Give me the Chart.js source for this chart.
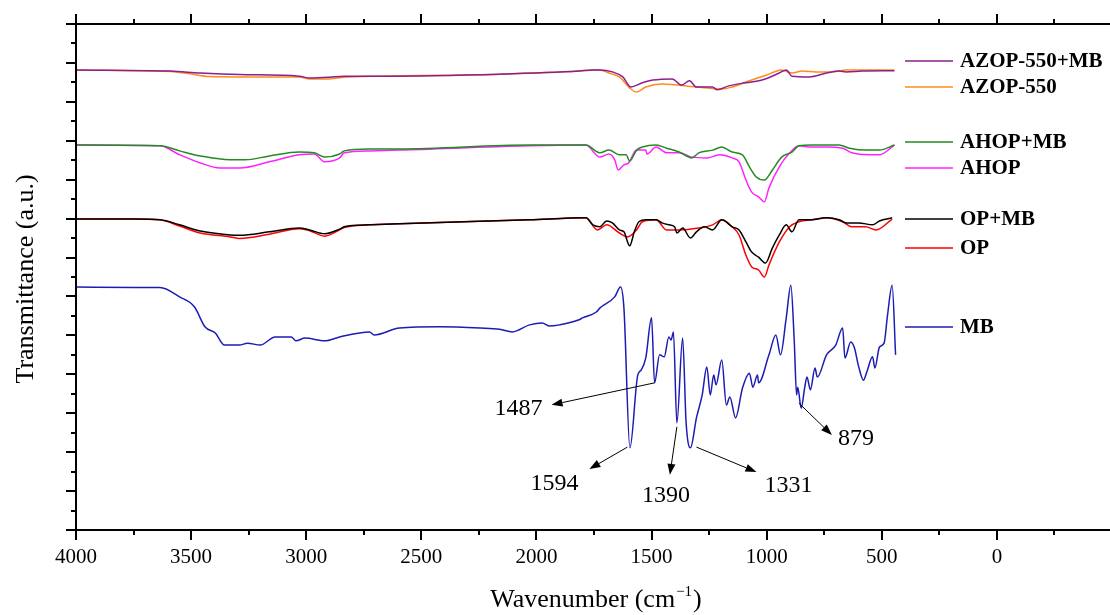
<!DOCTYPE html>
<html>
<head>
<meta charset="utf-8">
<script src="https://cdn.jsdelivr.net/npm/chart.js@4.4.1/dist/chart.umd.min.js"></script>
<style>
  html, body { margin: 0; padding: 0; background: #fff; overflow: hidden; }
  #wrap { width: 1112px; height: 615px; }
</style>
</head>
<body>
<div id="wrap"><canvas id="ftirChart" width="1112" height="615"></canvas></div>
<script>
// Tick labels
const xTicks = [4000, 3500, 3000, 2500, 2000, 1500, 1000, 500, 0];

// Series names and colours (legend order)
const seriesNames = ['AZOP-550+MB', 'AZOP-550', 'AHOP+MB', 'AHOP', 'OP+MB', 'OP', 'MB'];
const seriesColors = ['#8a1f8f', '#ff8c1a', '#228b22', '#ff22ff', '#000000', '#ff0000', '#1c1cb4'];

// AZOP-550+MB
const azopMbWave = [4000, 3590, 3460, 3290, 3030, 2985, 2900, 2835, 2680, 2160, 1815, 1755, 1725, 1670, 1625, 1590, 1540, 1495, 1410, 1370, 1335, 1305, 1235, 1215, 1165, 1090, 1020, 945, 915, 890, 815, 740, 685, 655, 585, 445];
const azopMbT = [11.82, 11.79, 11.74, 11.70, 11.66, 11.61, 11.63, 11.66, 11.66, 11.71, 11.79, 11.82, 11.82, 11.77, 11.64, 11.38, 11.49, 11.56, 11.59, 11.43, 11.54, 11.38, 11.38, 11.31, 11.41, 11.49, 11.56, 11.74, 11.82, 11.66, 11.64, 11.74, 11.79, 11.77, 11.79, 11.80];

// AZOP-550
const azopWave = [4000, 3590, 3505, 3420, 3290, 3030, 2985, 2900, 2835, 2680, 2160, 1815, 1755, 1725, 1685, 1640, 1595, 1565, 1525, 1455, 1305, 1195, 1150, 1090, 1000, 935, 890, 845, 785, 715, 655, 445];
const azopT = [11.82, 11.78, 11.72, 11.65, 11.64, 11.64, 11.59, 11.59, 11.63, 11.66, 11.71, 11.79, 11.82, 11.82, 11.74, 11.64, 11.36, 11.25, 11.38, 11.46, 11.38, 11.33, 11.38, 11.51, 11.69, 11.82, 11.74, 11.79, 11.77, 11.77, 11.82, 11.82];

// AHOP+MB
const ahopMbWave = [4000, 3635, 3550, 3460, 3330, 3265, 3160, 3030, 2965, 2920, 2855, 2835, 2725, 2595, 2030, 1785, 1725, 1685, 1640, 1610, 1595, 1565, 1540, 1480, 1435, 1380, 1325, 1295, 1235, 1195, 1150, 1105, 1075, 1045, 1010, 975, 935, 890, 860, 805, 685, 640, 570, 510, 445];
const ahopMbT = [9.89, 9.87, 9.74, 9.61, 9.51, 9.51, 9.61, 9.71, 9.69, 9.58, 9.66, 9.74, 9.79, 9.79, 9.89, 9.89, 9.69, 9.76, 9.64, 9.64, 9.48, 9.76, 9.84, 9.89, 9.81, 9.71, 9.56, 9.69, 9.76, 9.84, 9.71, 9.64, 9.33, 9.07, 8.99, 9.25, 9.58, 9.71, 9.87, 9.89, 9.89, 9.81, 9.76, 9.76, 9.89];

// AHOP
const ahopWave = [4000, 3635, 3550, 3460, 3375, 3290, 3160, 3030, 2965, 2920, 2855, 2835, 2725, 2595, 2030, 1785, 1725, 1685, 1660, 1645, 1620, 1600, 1565, 1525, 1520, 1480, 1435, 1380, 1325, 1260, 1205, 1150, 1120, 1090, 1065, 1035, 1010, 990, 945, 900, 860, 805, 740, 670, 630, 555, 510, 445];
const ahopT = [9.89, 9.87, 9.64, 9.43, 9.30, 9.30, 9.46, 9.64, 9.66, 9.46, 9.56, 9.69, 9.74, 9.76, 9.87, 9.89, 9.58, 9.66, 9.51, 9.25, 9.38, 9.43, 9.76, 9.76, 9.66, 9.84, 9.69, 9.69, 9.58, 9.56, 9.64, 9.56, 9.46, 8.99, 8.68, 8.56, 8.43, 8.79, 9.33, 9.69, 9.87, 9.84, 9.84, 9.81, 9.69, 9.64, 9.64, 9.89];

// OP+MB
const opMbWave = [4000, 3745, 3635, 3550, 3460, 3330, 3290, 3160, 3030, 2985, 2920, 2855, 2835, 2725, 2595, 2030, 1785, 1755, 1725, 1695, 1670, 1640, 1620, 1595, 1575, 1555, 1525, 1480, 1455, 1425, 1400, 1390, 1365, 1331, 1305, 1270, 1235, 1195, 1150, 1120, 1090, 1065, 1035, 1005, 975, 945, 915, 890, 860, 805, 740, 685, 655, 600, 540, 510, 455];
const opMbT = [7.99, 7.99, 7.97, 7.84, 7.68, 7.58, 7.57, 7.66, 7.76, 7.71, 7.61, 7.73, 7.79, 7.84, 7.87, 7.97, 8.02, 7.84, 7.79, 7.94, 7.89, 7.71, 7.66, 7.30, 7.66, 7.92, 7.97, 7.97, 7.89, 7.84, 7.79, 7.63, 7.76, 7.50, 7.66, 7.79, 7.71, 7.97, 7.79, 7.71, 7.40, 7.14, 7.01, 6.86, 7.25, 7.58, 7.84, 7.66, 7.97, 7.97, 8.02, 7.97, 7.89, 7.89, 7.84, 7.94, 8.02];

// OP
const opWave = [4000, 3745, 3635, 3550, 3460, 3330, 3290, 3160, 3030, 2985, 2920, 2855, 2835, 2725, 2595, 2030, 1785, 1735, 1695, 1640, 1605, 1565, 1540, 1480, 1435, 1380, 1295, 1235, 1195, 1150, 1120, 1090, 1065, 1035, 1010, 990, 945, 900, 860, 805, 740, 670, 630, 570, 525, 455];
const opT = [7.99, 7.99, 7.97, 7.81, 7.63, 7.53, 7.49, 7.60, 7.74, 7.69, 7.55, 7.71, 7.77, 7.84, 7.87, 7.97, 8.02, 7.71, 7.84, 7.63, 7.53, 7.71, 7.92, 7.97, 7.71, 7.71, 7.76, 7.84, 7.97, 7.79, 7.58, 7.06, 6.76, 6.68, 6.50, 6.81, 7.40, 7.79, 7.92, 7.97, 8.02, 7.92, 7.79, 7.79, 7.71, 7.99];

// MB
const mbWave = [4000, 3745, 3635, 3550, 3485, 3440, 3395, 3355, 3290, 3255, 3200, 3135, 3065, 3045, 3005, 2920, 2855, 2725, 2705, 2595, 2420, 2245, 2160, 2105, 2030, 1975, 1945, 1900, 1815, 1800, 1740, 1725, 1660, 1635, 1620, 1594, 1560, 1545, 1525, 1500, 1487, 1465, 1445, 1425, 1415, 1405, 1390, 1365, 1350, 1331, 1305, 1280, 1260, 1245, 1230, 1220, 1195, 1175, 1160, 1135, 1105, 1075, 1060, 1040, 1035, 990, 960, 940, 915, 895, 880, 870, 865, 850, 835, 825, 810, 790, 780, 740, 700, 670, 660, 635, 620, 600, 580, 565, 540, 530, 510, 490, 475, 455, 440];
const mbT = [6.24, 6.23, 6.23, 5.99, 5.73, 5.22, 5.06, 4.75, 4.75, 4.80, 4.75, 4.96, 4.96, 4.86, 4.93, 4.86, 4.96, 5.09, 5.01, 5.19, 5.22, 5.19, 5.16, 5.09, 5.27, 5.32, 5.24, 5.27, 5.40, 5.45, 5.60, 5.70, 5.99, 6.24, 5.70, 2.11, 3.98, 4.11, 4.42, 5.45, 3.78, 4.50, 4.45, 4.96, 4.88, 5.09, 2.75, 4.93, 2.77, 2.11, 2.88, 3.47, 4.19, 3.47, 3.98, 3.73, 4.37, 3.21, 3.42, 2.88, 3.65, 4.03, 3.67, 3.98, 3.78, 4.50, 5.01, 4.50, 5.45, 6.29, 4.83, 3.47, 3.67, 3.13, 3.65, 3.93, 3.60, 4.16, 3.93, 4.50, 4.75, 5.19, 4.42, 4.83, 4.70, 4.19, 3.85, 4.06, 4.45, 4.16, 4.70, 4.80, 5.52, 6.29, 4.50];

// Marked MB bands: label, wavenumber and transmittance where the arrow starts
const peakLabels = ['1487', '1594', '1390', '1331', '879'];
const peakWave = [1487, 1605, 1390, 1305, 860];
const peakT = [3.78, 2.13, 2.65, 2.13, 3.26];

const waves = [azopMbWave, azopWave, ahopMbWave, ahopWave, opMbWave, opWave, mbWave];
const values = [azopMbT, azopT, ahopMbT, ahopT, opMbT, opT, mbT];

const datasets = seriesNames.map((name, i) => ({
    label: name,
    data: waves[i].map((w, j) => ({ x: w, y: values[i][j] })),
    borderColor: seriesColors[i],
    borderWidth: 1.5,
    pointRadius: 0,
    fill: false,
    cubicInterpolationMode: 'monotone'
}));

// legend rows (pixel y) and arrow/label offsets relative to arrow start
const legendY = [61, 87, 142, 168, 219, 248, 327];
const arrowTip = [[-103, 22], [-38, 22], [-7, 48], [60, 25], [33, 32]];
const labelPos = [[-136, 26], [-73, 37], [-11, 69], [92, 39], [57, 36]];

const serif = '"Liberation Serif", "Times New Roman", serif';

function arrow(ctx, x0, y0, x1, y1) {
    const ang = Math.atan2(y1 - y0, x1 - x0);
    const hl = 11, hw = 4;
    const bx = x1 - hl * Math.cos(ang), by = y1 - hl * Math.sin(ang);
    ctx.beginPath();
    ctx.moveTo(x0, y0);
    ctx.lineTo(bx, by);
    ctx.stroke();
    ctx.beginPath();
    ctx.moveTo(x1, y1);
    ctx.lineTo(bx + hw * Math.sin(ang), by - hw * Math.cos(ang));
    ctx.lineTo(bx - hw * Math.sin(ang), by + hw * Math.cos(ang));
    ctx.closePath();
    ctx.fill();
}

const framePlugin = {
    id: 'frame',
    afterDraw(chart) {
        const { ctx, chartArea: a, scales: { x, y } } = chart;
        ctx.save();
        ctx.strokeStyle = '#000';
        ctx.fillStyle = '#000';
        ctx.lineWidth = 2;

        // axis lines
        ctx.beginPath();
        ctx.moveTo(a.left, a.top); ctx.lineTo(a.right, a.top);
        ctx.moveTo(a.left, a.top - 1); ctx.lineTo(a.left, a.bottom + 1);
        ctx.moveTo(a.left, a.bottom); ctx.lineTo(a.right, a.bottom);
        ctx.stroke();

        // x ticks, bottom and top
        ctx.beginPath();
        for (let v = 4000; v >= x.min; v -= 250) {
            const px = Math.round(x.getPixelForValue(v));
            const len = v % 500 === 0 ? 10 : 5;
            ctx.moveTo(px, a.bottom); ctx.lineTo(px, a.bottom + len);
            ctx.moveTo(px, a.top); ctx.lineTo(px, a.top - len);
        }
        // y ticks, left
        for (let v = 0; v <= y.max; v += 0.5) {
            const py = Math.round(y.getPixelForValue(v));
            const len = v % 1 === 0 ? 10 : 5;
            ctx.moveTo(a.left, py); ctx.lineTo(a.left - len, py);
        }
        ctx.stroke();

        // x tick labels
        ctx.font = '21px ' + serif;
        ctx.textAlign = 'center';
        ctx.textBaseline = 'middle';
        xTicks.forEach(v => ctx.fillText(String(v), x.getPixelForValue(v), a.bottom + 27));

        // axis titles
        ctx.font = '26px ' + serif;
        ctx.textBaseline = 'alphabetic';
        const t1 = 'Wavenumber (cm', sup = '\u22121', t2 = ')';
        const w1 = ctx.measureText(t1).width, w3 = ctx.measureText(t2).width;
        ctx.font = '15px ' + serif;
        const w2 = ctx.measureText(sup).width;
        let sx = 595 - (w1 + w2 + w3) / 2;
        const base = 607;
        ctx.textAlign = 'left';
        ctx.font = '26px ' + serif;
        ctx.fillText(t1, sx, base);
        ctx.font = '15px ' + serif;
        ctx.fillText(sup, sx + w1 + 1, base - 11);
        ctx.font = '26px ' + serif;
        ctx.fillText(t2, sx + w1 + w2 + 2, base);

        ctx.save();
        ctx.translate(33, 279);
        ctx.rotate(-Math.PI / 2);
        ctx.textAlign = 'center';
        ctx.fillText('Transmittance (a.u.)', 0, 0);
        ctx.restore();

        // legend
        ctx.font = 'bold 21px ' + serif;
        ctx.textAlign = 'left';
        ctx.textBaseline = 'middle';
        chart.data.datasets.forEach((ds, i) => {
            const ly = legendY[i];
            ctx.strokeStyle = ds.borderColor;
            ctx.lineWidth = 1.5;
            ctx.beginPath();
            ctx.moveTo(905, ly); ctx.lineTo(953, ly);
            ctx.stroke();
            ctx.fillStyle = '#000';
            ctx.fillText(ds.label, 960, ly + 1);
        });

        // band annotations
        ctx.strokeStyle = '#000';
        ctx.fillStyle = '#000';
        ctx.lineWidth = 1;
        ctx.font = '24px ' + serif;
        ctx.textAlign = 'center';
        peakLabels.forEach((lab, i) => {
            const sx0 = x.getPixelForValue(peakWave[i]);
            const sy0 = y.getPixelForValue(peakT[i]);
            arrow(ctx, sx0, sy0, sx0 + arrowTip[i][0], sy0 + arrowTip[i][1]);
            ctx.fillText(lab, sx0 + labelPos[i][0], sy0 + labelPos[i][1]);
        });
        ctx.restore();
    }
};

const config = {
    type: 'line',
    data: { datasets: datasets },
    options: {
        responsive: false,
        animation: false,
        devicePixelRatio: 1,
        layout: { padding: { left: 76, top: 24, right: 0, bottom: 85 } },
        scales: {
            x: { type: 'linear', min: -500, max: 4000, reverse: true, display: false },
            y: { type: 'linear', min: 0, max: 13, display: false }
        },
        plugins: {
            legend: { display: false },
            tooltip: { enabled: false }
        }
    },
    plugins: [framePlugin]
};

const ftirChart = document.getElementById('ftirChart').getContext('2d');
new Chart(ftirChart, config);
</script>
</body>
</html>
